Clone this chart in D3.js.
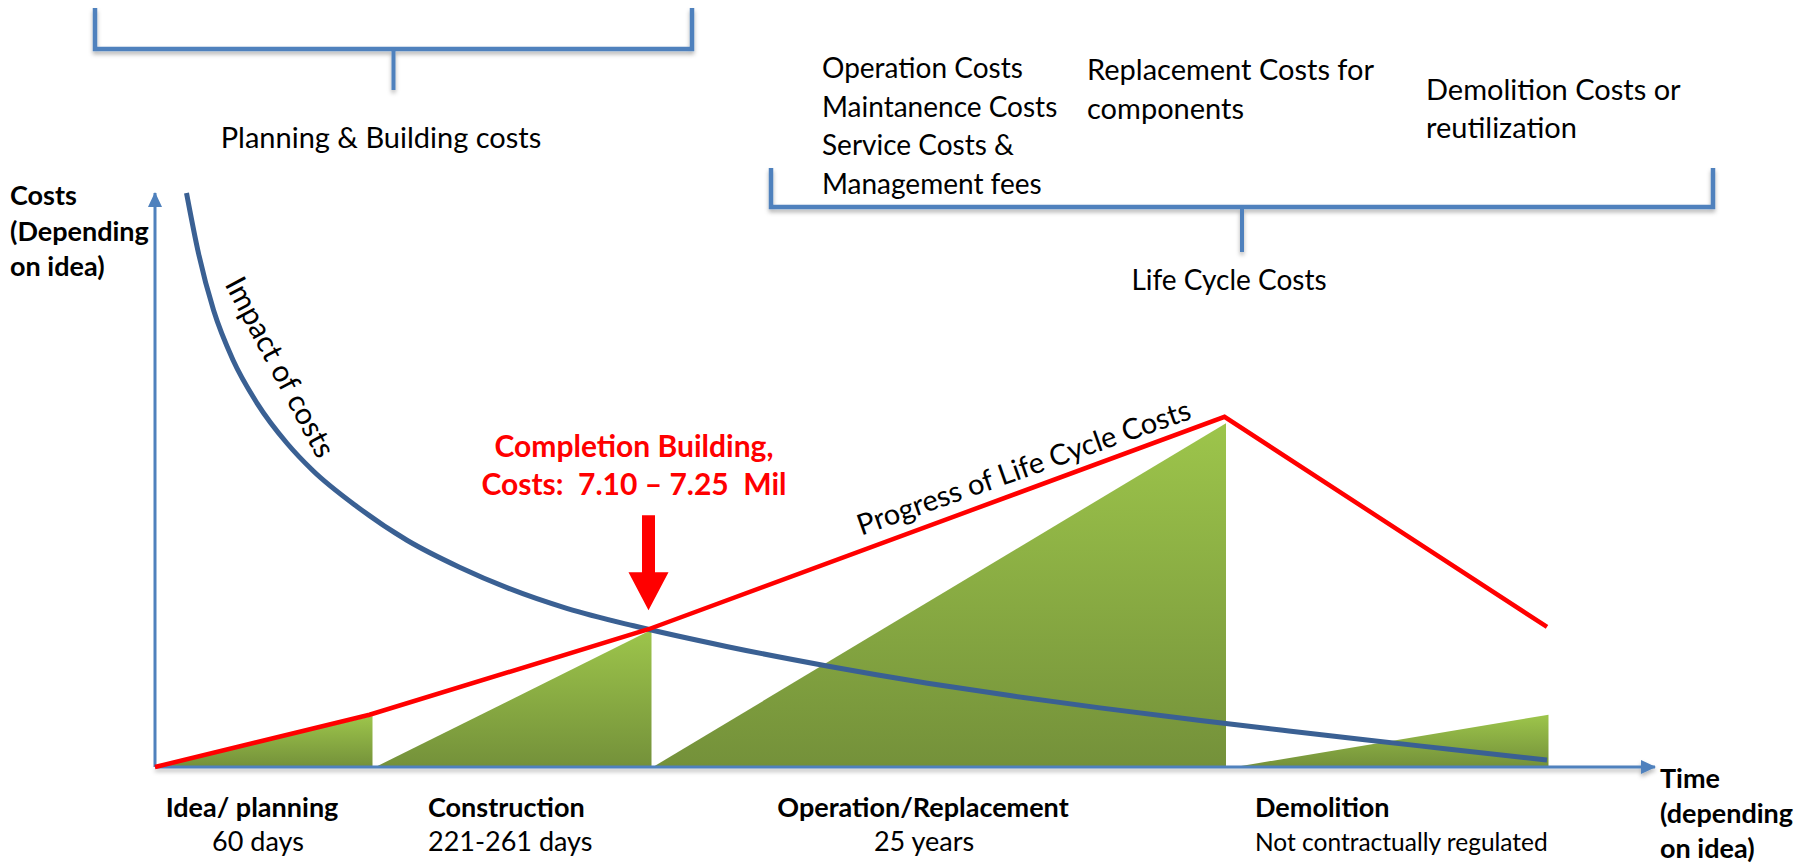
<!DOCTYPE html>
<html>
<head>
<meta charset="utf-8">
<script src="https://cdn.jsdelivr.net/npm/d3@7"></script>
<style>
    body { margin: 0; background: #fff; }
    svg { display: block; font-family: Lato, "Open Sans", sans-serif; }
    text { white-space: pre; }
</style>
</head>
<body>
<div id="chart-area"></div>
<script>
// x = time (0-100), y = relative cost (0-100)

// red "Progress of Life Cycle Costs" line
var costLine = [[0, 0], [14.3, 9.1], [32.9, 24.0], [71.3, 61.0], [92.8, 24.4]];

// blue "Impact of costs" curve
var impactCurve = [
    [2.1, 100], [2.9, 89.5], [3.9, 79.6], [5.2, 70.9], [6.8, 63.4], [8.8, 56.4],
    [10.5, 51.7], [13.5, 45.3], [16.8, 39.5], [20.3, 34.8], [23.5, 31.2],
    [27.5, 27.6], [31.9, 24.6], [38.1, 21.0], [44.8, 17.6], [51.5, 14.6],
    [57.1, 12.4], [63.0, 10.3], [69.7, 8.1], [75.2, 6.4], [80.8, 4.7],
    [86.3, 3.1], [92.8, 1.2]
];

// green cost areas per phase
var phaseAreas = [
    [[0, 0], [14.5, 8.9], [14.5, 0]],
    [[14.7, 0], [33.1, 23.9], [33.1, 0]],
    [[33.2, 0], [71.4, 59.9], [71.4, 0]],
    [[72.0, 0], [92.9, 9.1], [92.9, 0]]
];

var phaseNames = ["Idea/ planning", "Construction", "Operation/Replacement", "Demolition"];
var phaseDurations = ["60 days", "221-261 days", "25 years", "Not contractually regulated"];

var lifeCycleItems = [
    ["Operation Costs", "Maintanence Costs", "Service Costs &", "Management fees"],
    ["Replacement Costs for", "components"],
    ["Demolition Costs or", "reutilization"]
];

var completionLabel = ["Completion Building,", "Costs:  7.10 \u2013 7.25  Mil"];
var yAxisLabel = ["Costs", "(Depending", "on idea)"];
var xAxisLabel = ["Time", "(depending", "on idea)"];

var width = 1816, height = 865;

var svg = d3.select("#chart-area").append("svg")
    .attr("width", width)
    .attr("height", height);

var x = d3.scaleLinear().domain([0, 100]).range([155, 1655]);
var y = d3.scaleLinear().domain([0, 100]).range([767, 193]);

var defs = svg.append("defs");
var grad = defs.append("linearGradient")
    .attr("id", "greenFill")
    .attr("x1", 0).attr("y1", 0).attr("x2", 0).attr("y2", 1);
grad.append("stop").attr("offset", "0%").attr("stop-color", "#9dc54b");
grad.append("stop").attr("offset", "100%").attr("stop-color", "#74913a");

defs.append("filter")
    .attr("id", "shadow")
    .attr("filterUnits", "userSpaceOnUse")
    .attr("x", 0).attr("y", 0).attr("width", width).attr("height", height)
    .append("feDropShadow")
    .attr("dx", 0).attr("dy", 3)
    .attr("stdDeviation", 2)
    .attr("flood-color", "#000")
    .attr("flood-opacity", 0.3);

defs.append("marker")
    .attr("id", "axisArrow")
    .attr("viewBox", "0 -7 15 14")
    .attr("refX", 14).attr("refY", 0)
    .attr("markerUnits", "userSpaceOnUse")
    .attr("markerWidth", 15).attr("markerHeight", 14)
    .attr("orient", "auto")
    .append("path")
    .attr("d", "M0,-7L15,0L0,7Z")
    .attr("fill", "#4f81bd");

var axisBlue = "#4f81bd";

// green phase areas
var areaLine = d3.line()
    .x(function(d){ return x(d[0]); })
    .y(function(d){ return y(d[1]); });

svg.selectAll(".phase")
    .data(phaseAreas)
    .enter()
    .append("path")
    .attr("class", "phase")
    .attr("d", function(d){ return areaLine(d) + "Z"; })
    .attr("fill", "url(#greenFill)");

// axes
svg.append("line")
    .attr("x1", x(0)).attr("y1", y(0))
    .attr("x2", x(100)).attr("y2", y(0))
    .attr("stroke", axisBlue)
    .attr("stroke-width", 3)
    .attr("filter", "url(#shadow)")
    .attr("marker-end", "url(#axisArrow)");

svg.append("line")
    .attr("x1", x(0)).attr("y1", y(0))
    .attr("x2", x(0)).attr("y2", y(100))
    .attr("stroke", axisBlue)
    .attr("stroke-width", 3)
    .attr("marker-end", "url(#axisArrow)");

// impact curve
svg.append("path")
    .datum(impactCurve)
    .attr("d", d3.line()
        .x(function(d){ return x(d[0]); })
        .y(function(d){ return y(d[1]); })
        .curve(d3.curveMonotoneX))
    .attr("fill", "none")
    .attr("stroke", "#3a6093")
    .attr("stroke-width", 5);

// life cycle cost line
svg.append("path")
    .datum(costLine)
    .attr("d", areaLine)
    .attr("fill", "none")
    .attr("stroke", "#ff0000")
    .attr("stroke-width", 4.5)
    .attr("stroke-linejoin", "miter");

// brackets
function bracket(x0, x1, yTop, yBar, yTick) {
    var xm = (x0 + x1) / 2;
    var g = svg.append("g").attr("filter", "url(#shadow)");
    g.append("path")
        .attr("d", "M" + x0 + "," + yTop + "V" + yBar + "H" + x1 + "V" + yTop)
        .attr("fill", "none")
        .attr("stroke", axisBlue)
        .attr("stroke-width", 4.5);
    g.append("path")
        .attr("d", "M" + xm + "," + yBar + "V" + yTick)
        .attr("fill", "none")
        .attr("stroke", axisBlue)
        .attr("stroke-width", 4);
}
bracket(95, 692, 8, 49, 90);
bracket(771, 1713, 168, 207, 252);

// text helper
function lines(list, xPos, y0, dy, opts) {
    var t = svg.append("text")
        .attr("x", xPos)
        .attr("y", y0)
        .attr("font-size", opts.size)
        .attr("font-weight", opts.bold ? "bold" : "normal")
        .attr("fill", opts.color || "#000")
        .attr("text-anchor", opts.anchor || "start");
    list.forEach(function(s, i){
        t.append("tspan")
            .attr("x", xPos)
            .attr("y", y0 + i * dy)
            .text(s);
    });
    return t;
}

lines(["Planning & Building costs"], 381, 148, 0, {size: 29, anchor: "middle"});
lines(["Life Cycle Costs"], 1229, 290, 0, {size: 28, anchor: "middle"});
lines(lifeCycleItems[0], 822, 78, 38.5, {size: 28});
lines(lifeCycleItems[1], 1087, 80, 38.5, {size: 29});
lines(lifeCycleItems[2], 1426, 100, 37.5, {size: 29});

lines(yAxisLabel, 10, 205, 35.5, {size: 27, bold: true});
lines(xAxisLabel, 1660, 788, 35, {size: 27, bold: true});

// phase labels below the axis
var titleX = [252, 428, 923, 1255];
var subX = [258, 428, 924, 1255];
var subSize = [27, 27, 27, 24.5];
var anchors = ["middle", "start", "middle", "start"];
phaseNames.forEach(function(name, i){
    lines([name], titleX[i], 817, 0, {size: 27, bold: true, anchor: anchors[i]});
    lines([phaseDurations[i]], subX[i], 851, 0, {size: subSize[i], anchor: anchors[i]});
});

// completion label and arrow pointing at the intersection
var hit = costLine[2];
var ax = x(hit[0]), ay = y(hit[1]);
lines(completionLabel, 634, 457, 38, {size: 30, bold: true, color: "#ff0000", anchor: "middle"});
svg.append("path")
    .attr("d", "M" + (ax - 6.5) + "," + (ay - 114) +
        "H" + (ax + 6.5) + "V" + (ay - 57) +
        "H" + (ax + 20) + "L" + ax + "," + (ay - 19) +
        "L" + (ax - 20) + "," + (ay - 57) +
        "H" + (ax - 6.5) + "Z")
    .attr("fill", "#ff0000");

// rotated curve labels
svg.append("text")
    .attr("transform", "translate(271,372) rotate(62)")
    .attr("text-anchor", "middle")
    .attr("font-size", 30)
    .text("Impact of costs");

svg.append("text")
    .attr("transform", "translate(1027,477) rotate(-19.5)")
    .attr("text-anchor", "middle")
    .attr("font-size", 29)
    .text("Progress of Life Cycle Costs");
</script>
</body>
</html>
